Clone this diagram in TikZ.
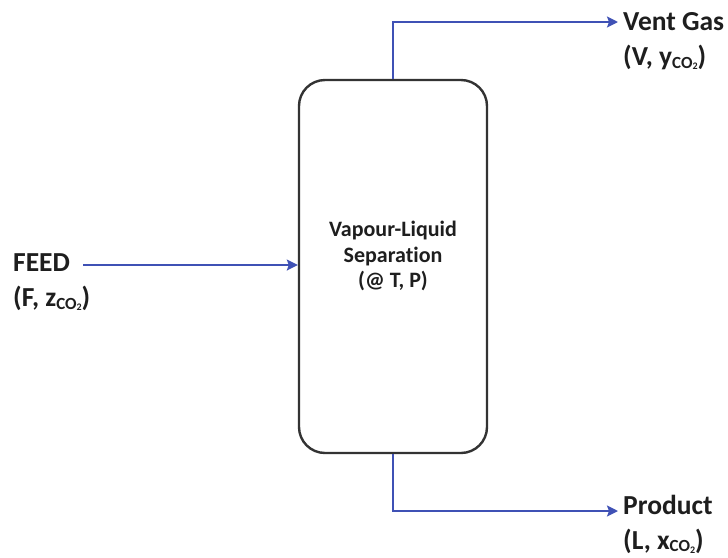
\documentclass[tikz,border=0pt]{standalone}
\usepackage{fontspec}
\setmainfont{Carlito}[Ligatures=NoCommon]
\usepackage{xcolor}
\usetikzlibrary{arrows.meta,positioning}
\definecolor{flowblue}{HTML}{3F51B5}
\definecolor{edgegray}{HTML}{333333}
\definecolor{inkx}{HTML}{1E1E1E}
\tikzset{
  ar/.style={-{Stealth[length=11pt,width=11pt,inset=2pt]},line width=2pt,flowblue},
  vessel/.style={draw=edgegray,line width=2.4pt,rounded corners=26pt,minimum width=188pt,minimum height=373pt},
  vtext/.style={align=center,inner sep=0pt,font=\fontsize{22}{25.5}\selectfont\bfseries,text=inkx},
  lbl/.style={align=left,inner sep=0pt,font=\fontsize{27.5}{35}\selectfont\bfseries,text=inkx}
}
% small CO2 subscript, only slightly lowered
\newcommand{\sco}[1]{#1\raisebox{-0.1em}{\fontsize{17}{17}\selectfont CO\raisebox{-0.08em}{\fontsize{10}{10}\selectfont 2}}}

\begin{document}
\begin{tikzpicture}[x=1pt,y=-1pt]
\useasboundingbox (0,0) rectangle (728,557);
% separator vessel
\node[vessel] (vls) at (393,266.5) {};
\node[vtext] (vlstext) at (393,256) {Vapour-Liquid\\Separation\\(@ T, P)};
% stream labels
\node[lbl,anchor=west] (feed) at (13,282) {FEED\\(F, \sco{z})};
\node[lbl,anchor=west] (vent) at (623,41) {Vent Gas\\(V, \sco{y})};
\node[lbl,anchor=west] (prod) at (623,524) {Product\\(L, \sco{x})};
% streams
\coordinate (feedst) at (83,265);
\coordinate (ventend) at (618,22);
\coordinate (prodend) at (618,511);
\draw[ar] (feedst) -- (feedst -| vls.west);
\draw[ar] (vls.north) |- (ventend);
\draw[ar] (vls.south) |- (prodend);
\end{tikzpicture}
\end{document}
